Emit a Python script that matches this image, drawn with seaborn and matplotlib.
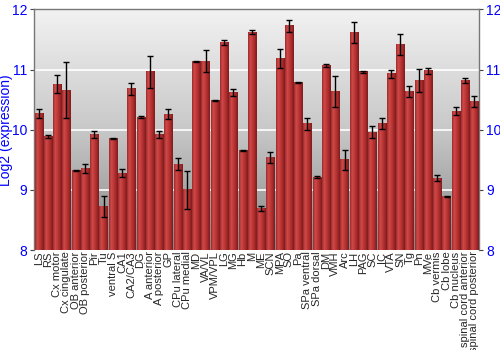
import numpy as np
import pandas as pd
import matplotlib
matplotlib.use("Agg")
import matplotlib.pyplot as plt
from matplotlib.colors import LinearSegmentedColormap
import seaborn as sns

regions = ["LS", "RS", "Cx motor", "Cx cingulate", "OB anterior", "OB posterior", "Pir", "Tu",
           "ventral S", "CA1", "CA2/CA3", "DG", "A anterior", "A posterior", "GP", "CPu lateral",
           "CPu medial", "MD", "VA/VL", "VPM/VPL", "LG", "MG", "Hb", "M", "ME", "SCN", "MPA", "SO",
           "Pa", "SPa ventral", "SPa dorsal", "DM", "VMH", "Arc", "LH", "PAG", "SC", "IC", "VTA",
           "SN", "Tg", "Pn", "MVe", "Cb vermis", "Cb lobe", "Cb nucleus", "spinal cord anterior",
           "spinal cord posterior"]
expression = [10.27, 9.89, 10.76, 10.66, 9.32, 9.36, 9.92, 8.72,
              9.86, 9.28, 10.68, 10.21, 10.96, 9.92, 10.26, 9.43,
              9.00, 11.13, 11.14, 10.49, 11.45, 10.62, 9.66, 11.62, 8.69, 9.54, 11.18, 11.73,
              10.78, 10.10, 9.21, 11.07, 10.63, 9.50, 11.62, 10.96, 9.96, 10.10, 10.93,
              11.42, 10.64, 10.82, 10.98, 9.19, 8.89, 10.31, 10.82,
              10.47]
error = [0.08, 0.03, 0.15, 0.46, 0.01, 0.075, 0.055, 0.17,
         0.01, 0.07, 0.10, 0.015, 0.26, 0.06, 0.08, 0.10,
         0.32, 0.01, 0.18, 0.01, 0.035, 0.065, 0.01, 0.03, 0.035, 0.095, 0.155, 0.10,
         0.01, 0.10, 0.02, 0.03, 0.26, 0.17, 0.17, 0.01, 0.10, 0.09, 0.07,
         0.17, 0.09, 0.19, 0.05, 0.05, 0.01, 0.06, 0.035,
         0.09]
y_ticks = [8, 9, 10, 11, 12]
y_range = (8, 12)

df = pd.DataFrame({"region": regions, "expression": expression, "error": error})

sns.set_style("white")
plt.rcParams["font.family"] = ["Liberation Sans", "DejaVu Sans"]

fig = plt.figure(figsize=(5, 3.5), dpi=100)
ax = fig.add_axes([0.068, 0.2857, 0.89, 0.6873])

sns.barplot(data=df, x="region", y="expression", order=regions, color="#b83232",
            width=0.88, errorbar=None, ax=ax, zorder=3, linewidth=0)

# background gradient
bg = LinearSegmentedColormap.from_list("bg", ["#868686", "#c8c8c8", "#f2f2f2"])
grad = np.linspace(0, 1, 256).reshape(-1, 1)
ax.imshow(grad, cmap=bg, extent=[0, 1, 0, 1], transform=ax.transAxes,
          aspect="auto", origin="lower", zorder=0)

for t in [9, 10, 11]:
    ax.axhline(t, color="white", lw=1.2, zorder=1)

# bar gradients (drawn over each seaborn bar)
barcm = LinearSegmentedColormap.from_list("bar", ["#9c2a2a", "#cf4a4a", "#c03838", "#a52a2a", "#7e1c1c"])
hgrad = np.linspace(0, 1, 64).reshape(1, -1)
centers = []
for p in ax.patches:
    x0, w, h = p.get_x(), p.get_width(), p.get_height()
    centers.append(x0 + w / 2)
    ax.imshow(hgrad, cmap=barcm, extent=[x0, x0 + w, y_range[0], p.get_y() + h],
              aspect="auto", zorder=3.5)

ax.errorbar(centers, df["expression"], yerr=df["error"], fmt="none",
            ecolor="black", elinewidth=1, capsize=2.2, capthick=1, zorder=5)

ax.set_ylim(*y_range)
ax.set_xlim(-0.5, len(regions) - 0.5)

ax.set_yticks(y_ticks)
ax.tick_params(axis="y", labelcolor="#0000ff", color="#444444", labelsize=10, length=3,
               direction="out", left=True, right=True, labelleft=True, labelright=True, pad=2)
ax.tick_params(axis="x", labelsize=8, rotation=90, length=0, pad=1)
ax.set_xlabel("")
ax.set_ylabel("Log2 (expression)", color="#0000ff", fontsize=10)
ax.yaxis.set_label_coords(-0.047, 0.5)

for s in ["left", "right", "top"]:
    ax.spines[s].set_color("#777777")
    ax.spines[s].set_linewidth(1)
    ax.spines[s].set_visible(True)
ax.spines["bottom"].set_visible(False)

fig.savefig("out.png", dpi=100)
